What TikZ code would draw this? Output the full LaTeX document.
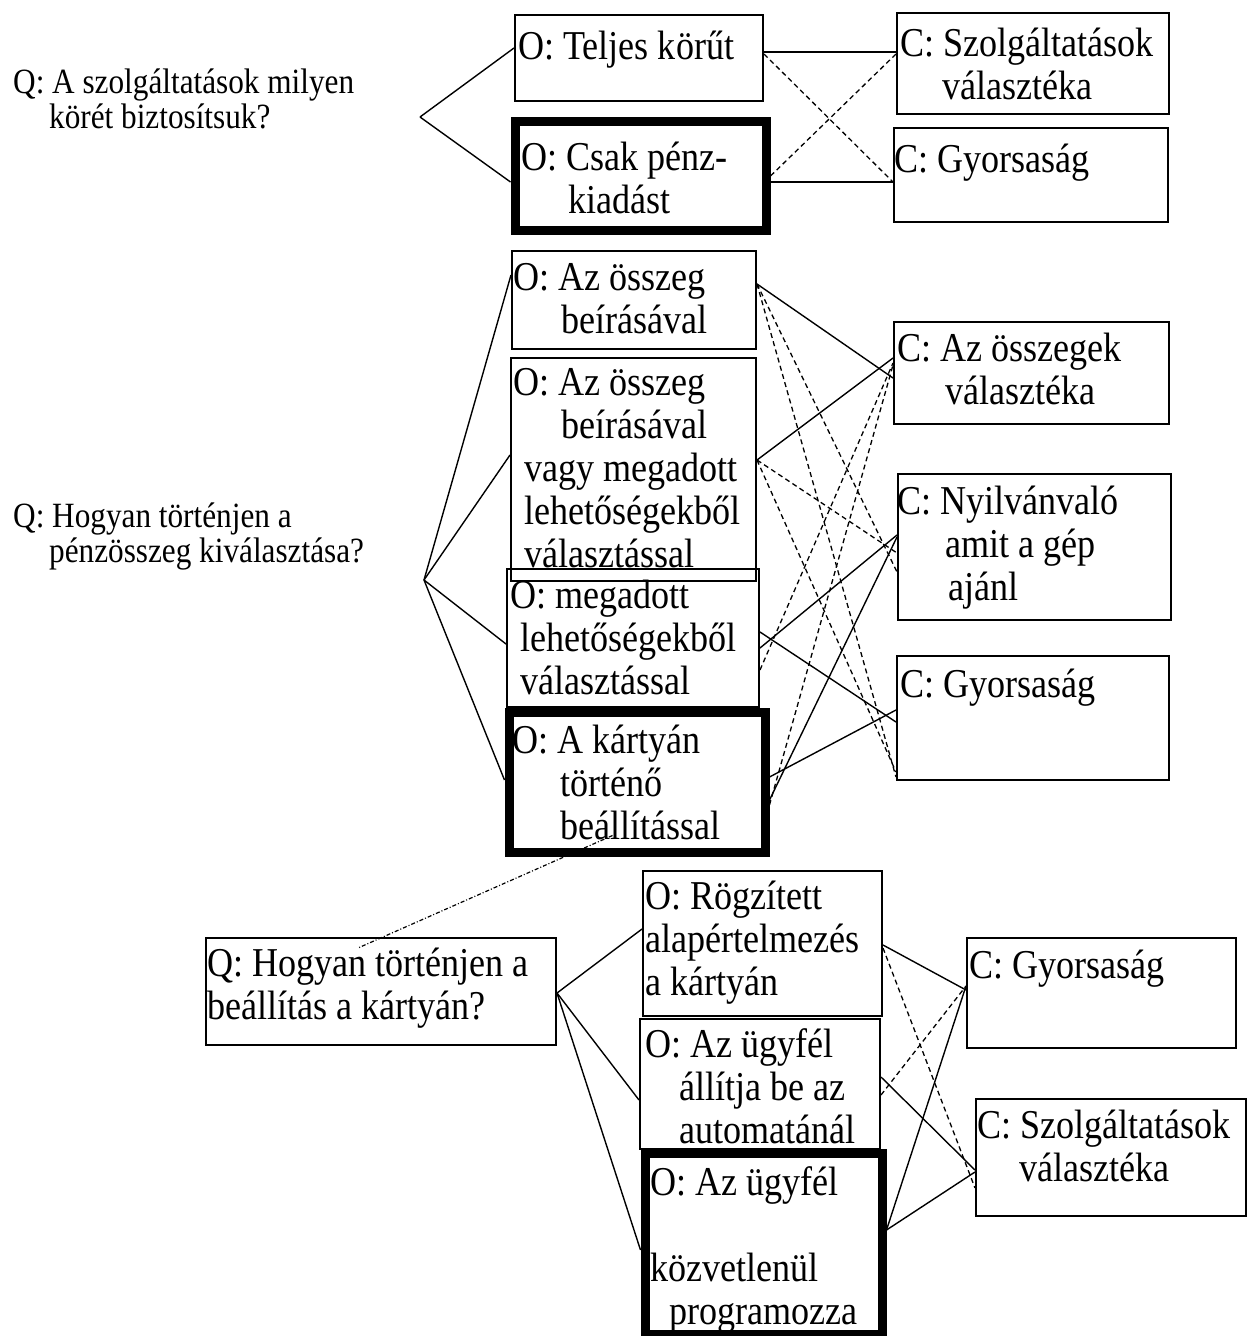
\documentclass[tikz,border=0pt]{standalone}
\usepackage{fontspec}
\setmainfont{Liberation Serif}
\newfontfamily\tallserif{Liberation Serif}[FakeStretch=0.88]
\usepackage{tikz}
\newcommand\boxfont{\tallserif\fontsize{41}{43}\selectfont}
\newcommand\qfont{\tallserif\fontsize{35.5}{35}\selectfont}
\tikzset{
  box/.style={rectangle, draw, anchor=north west, inner sep=0pt, line width=2pt},
  thickbox/.style={box, line width=9pt},
  lbl/.style={anchor=north west, inner sep=0pt, align=left, font=\boxfont, execute at begin node=\strut},
  qlbl/.style={lbl, font=\qfont},
  pro/.style={line width=1.4pt},
  con/.style={line width=1.3pt, dash pattern=on 5pt off 3.5pt},
  qlink/.style={line width=1.2pt, dash pattern=on 4pt off 2pt on 1pt off 2pt},
}

\begin{document}
\begin{tikzpicture}[x=1pt, y=-1pt]
    \useasboundingbox (0,0) rectangle (1248,1336);

    % first question
    \node[qlbl] (q1) at (13,68.5) {Q: A szolgáltatások milyen\\\hspace*{36pt}körét biztosítsuk?};
    \coordinate (q1fork) at (420,117);
    \node[box, minimum width=248pt, minimum height=86pt] (o1) at (514,14) {};
    \node[lbl] (o1l) at (518,29) {O: Teljes körűt};
    \node[thickbox, minimum width=251pt, minimum height=109pt] (o2) at (510.5,116.5) {};
    \node[lbl] (o2l) at (521,142) {O: Csak pénz-\\\hspace*{47pt}kiadást};
    \node[box, minimum width=272pt, minimum height=101pt] (c1) at (896,12) {};
    \node[lbl] (c1l) at (900,28) {C: Szolgáltatások\\\hspace*{42pt}választéka};
    \node[box, minimum width=274pt, minimum height=94pt] (c2) at (893,127) {};
    \node[lbl] (c2l) at (894,142) {C: Gyorsaság};

    \draw[pro] (q1fork) -- (o1.west |- 0,48);
    \draw[pro] (q1fork) -- (o2.west |- 0,182);
    \draw[pro] (o1.east |- 0,52) -- (c1.west |- 0,52);
    \draw[con] (o1.east |- 0,54) -- (c2.west |- 0,182);
    \draw[pro] (o2.east |- 0,182) -- (c2.west |- 0,182);
    \draw[con] (o2.east |- 0,176) -- (c1.west |- 0,54);

    % second question
    \node[qlbl] (q2) at (13,503) {Q: Hogyan történjen a\\\hspace*{36pt}pénzösszeg kiválasztása?};
    \coordinate (q2fork) at (424,580);
    \node[box, minimum width=244pt, minimum height=98pt] (o3) at (511,250) {};
    \node[lbl] (o3l) at (513,263) {O: Az összeg\\\hspace*{48pt}beírásával};
    \node[box, minimum width=245pt, minimum height=223pt] (o4) at (510,357) {};
    \node[lbl] (o4l) at (513,368) {O: Az összeg\\\hspace*{48pt}beírásával\\\hspace*{11pt}vagy megadott\\\hspace*{11pt}lehetőségekből\\\hspace*{11pt}választással};
    \node[box, minimum width=252pt, minimum height=138pt] (o5) at (506,568) {};
    \node[lbl] (o5l) at (510,580) {O: megadott\\\hspace*{10pt}lehetőségekből\\\hspace*{10pt}választással};
    \node[thickbox, minimum width=256pt, minimum height=140pt] (o6) at (504.5,707.5) {};
    \node[lbl] (o6l) at (512,725) {O: A kártyán\\\hspace*{48pt}történő\\\hspace*{48pt}beállítással};
    \node[box, minimum width=275pt, minimum height=102pt] (c3) at (893,321) {};
    \node[lbl] (c3l) at (897,333) {C: Az összegek\\\hspace*{48pt}választéka};
    \node[box, minimum width=273pt, minimum height=146pt] (c4) at (897,473) {};
    \node[lbl] (c4l) at (897,486) {C: Nyilvánvaló\\\hspace*{48pt}amit a gép\\\hspace*{51pt}ajánl};
    \node[box, minimum width=272pt, minimum height=124pt] (c5) at (896,655) {};
    \node[lbl] (c5l) at (900,667) {C: Gyorsaság};

    \draw[pro] (q2fork) -- (o3.west |- 0,275);
    \draw[pro] (q2fork) -- (o4.west |- 0,455);
    \draw[pro] (q2fork) -- (o5.west |- 0,644);
    \draw[pro] (q2fork) -- (o6.west |- 0,780);
    \draw[pro] (o3.east |- 0,284) -- (c3.west |- 0,378);
    \draw[con] (o3.east |- 0,284) -- (c4.west |- 0,572);
    \draw[con] (o3.east |- 0,284) -- (c5.west |- 0,777);
    \draw[pro] (o4.east |- 0,460) -- (c3.west |- 0,358);
    \draw[con] (o4.east |- 0,460) -- (c4.west |- 0,553);
    \draw[con] (o4.east |- 0,460) -- (c5.west |- 0,772);
    \draw[con] (o5.east |- 0,670) -- (c3.west |- 0,363);
    \draw[pro] (o5.east |- 0,648) -- (c4.west |- 0,535);
    \draw[pro] (o5.east |- 0,632) -- (c5.west |- 0,722);
    \draw[con] (o6.east |- 0,805) -- (c3.west |- 0,365);
    \draw[pro] (o6.east |- 0,800) -- (c4.west |- 0,537);
    \draw[pro] (o6.east |- 0,777) -- (c5.west |- 0,710);

    % third question, hanging off the card option
    \node[box, minimum width=350pt, minimum height=107pt] (q3) at (205,937) {};
    \node[lbl] (q3l) at (207,948) {Q: Hogyan történjen a\\beállítás a kártyán?};
    \node[box, minimum width=239pt, minimum height=145pt] (o7) at (642,870) {};
    \node[lbl] (o7l) at (645,881) {O: Rögzített\\alapértelmezés\\a kártyán};
    \node[box, minimum width=240pt, minimum height=130pt] (o8) at (639,1018) {};
    \node[lbl] (o8l) at (645,1028) {O: Az ügyfél\\\hspace*{34pt}állítja be az\\\hspace*{34pt}automatánál};
    \node[thickbox, minimum width=237pt, minimum height=181pt] (o9) at (640.5,1148.5) {};
    \node[lbl] (o9l) at (650,1166) {O: Az ügyfél\\\mbox{}\\közvetlenül\\\hspace*{19pt}programozza};
    \node[box, minimum width=269pt, minimum height=110pt] (c6) at (966,937) {};
    \node[lbl] (c6l) at (969,948) {C: Gyorsaság};
    \node[box, minimum width=270pt, minimum height=117pt] (c7) at (975,1098) {};
    \node[lbl] (c7l) at (977,1110) {C: Szolgáltatások\\\hspace*{42pt}választéka};

    \draw[qlink] ([shift={(108pt,21pt)}]o6.south west) -- ([shift={(153pt,-11pt)}]q3.north west);
    \draw[pro] (q3.east |- 0,993) -- (o7.west |- 0,929);
    \draw[pro] (q3.east |- 0,993) -- (o8.west |- 0,1100);
    \draw[pro] (q3.east |- 0,993) -- (o9.west |- 0,1250);
    \draw[pro] (o7.east |- 0,945) -- (c6.west |- 0,990);
    \draw[con] (o7.east |- 0,948) -- (c7.west |- 0,1188);
    \draw[pro] (o8.east |- 0,1077) -- (c7.west |- 0,1170);
    \draw[con] (o8.east |- 0,1095) -- (c6.west |- 0,986);
    \draw[pro] (o9.east |- 0,1230) -- (c6.west |- 0,986);
    \draw[pro] (o9.east |- 0,1230) -- (c7.west |- 0,1172);
  \end{tikzpicture}
\end{document}
